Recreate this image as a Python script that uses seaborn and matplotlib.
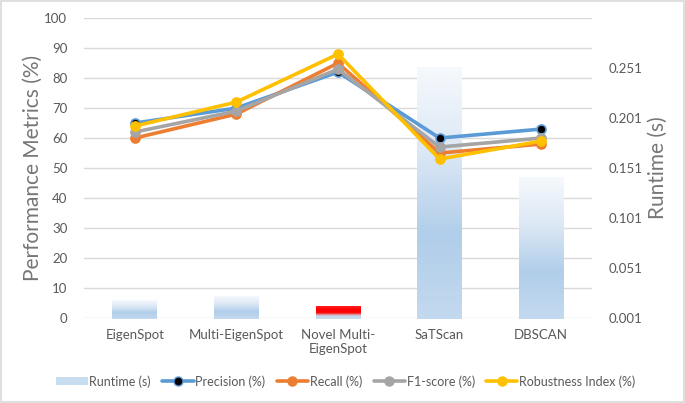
import numpy as np
import pandas as pd
import matplotlib
matplotlib.use("Agg")
import matplotlib.pyplot as plt
from matplotlib.colors import LinearSegmentedColormap
from matplotlib.lines import Line2D
from matplotlib.patches import Patch, Rectangle
import seaborn as sns

categories = ["EigenSpot", "Multi-EigenSpot", "Novel Multi-\nEigenSpot", "SaTScan", "DBSCAN"]
runtime = [0.019, 0.023, 0.013, 0.252, 0.142]
precision = [65, 70, 82, 60, 63]
recall = [60, 68, 85, 55, 58]
f1 = [62, 69, 83, 57, 60]
robustness = [64, 72, 88, 53, 59]
left_ticks = list(range(0, 101, 10))
right_ticks = [0.001, 0.051, 0.101, 0.151, 0.201, 0.251]

sns.set_theme(style="white")
plt.rcParams['font.family'] = ['Lato', 'DejaVu Sans']
txt = "#595959"
lab = "#767676"

fig = plt.figure(figsize=(6.85, 4.03), dpi=100)
ax = fig.add_axes([0.1226, 0.211, 0.7416, 0.744])
ax2 = ax.twinx()
ax3 = ax.twinx()
ax.set_zorder(0); ax2.set_zorder(1); ax3.set_zorder(2)
for a in (ax2, ax3):
    a.patch.set_visible(False)

# grid / left axis
ax.set_ylim(0, 100)
ax.set_yticks(left_ticks)
ax.yaxis.grid(True, color="#D9D9D9", linewidth=1)
ax.tick_params(axis="y", length=0, labelsize=9.5, labelcolor=txt, pad=12)
ax.set_ylabel("Performance Metrics (%)", fontsize=15, color=lab, va="center")
ax.yaxis.set_label_coords(-0.100, 0.5)
for s in ax.spines.values():
    s.set_visible(False)

# bars on right axis
df_bar = pd.DataFrame({"cat": categories, "runtime": runtime})
sns.barplot(data=df_bar, x="cat", y="runtime", ax=ax2, color="#BDD7EE", width=0.44)
ax2.set_ylim(0.001, 0.301)
ax2.set_yticks(right_ticks)
ax2.set_yticklabels([f"{t:.3f}" for t in right_ticks])
ax2.tick_params(axis="y", length=0, labelsize=9.5, labelcolor=txt, pad=12)
ax2.set_ylabel("Runtime (s)", fontsize=15, color=lab, va="center")
ax2.yaxis.set_label_coords(1.130, 0.5)
ax2.set_xlabel("")
for s in ax2.spines.values():
    s.set_visible(False)

blue_cmap = LinearSegmentedColormap.from_list("g", ["#C3D9EF", "#B1CEEA", "#DCE8F5", "#F6F9FD"])
red_cmap = LinearSegmentedColormap.from_list("r", ["#C6DBF0", "#C8D6E8", "#FF0000", "#FF0000", "#FF2020"])
grad = np.linspace(0, 1, 256).reshape(-1, 1)
for i, p in enumerate(ax2.patches):
    x0, y0 = p.get_x(), p.get_y()
    w, h = p.get_width(), p.get_height()
    cmap = red_cmap if i == 2 else blue_cmap
    im = ax2.imshow(grad, cmap=cmap, origin="lower", aspect="auto",
                    extent=[x0, x0 + w, y0, y0 + h], zorder=1)
    im.set_clip_path(p)
    p.set_facecolor("none")
    p.set_edgecolor("none")
ax2.set_xlim(-0.5, len(categories) - 0.5)
ax2.set_ylim(0.001, 0.301)

# lines
series = [("Precision (%)", precision, "#5B9BD5", "black"),
          ("Recall (%)", recall, "#ED7D31", "#ED7D31"),
          ("F1-score (%)", f1, "#A5A5A5", "#A5A5A5"),
          ("Robustness Index (%)", robustness, "#FFC000", "#FFC000")]
for name, vals, col, mfc in series:
    d = pd.DataFrame({"cat": categories, "v": vals})
    sns.lineplot(data=d, x="cat", y="v", ax=ax3, color=col, linewidth=2.6,
                 marker="o", markersize=6.5, markerfacecolor=mfc,
                 markeredgecolor=col, markeredgewidth=1.2, sort=False)
ax3.set_ylim(0, 100)
ax3.set_yticks([])
ax3.set_ylabel("")
ax3.set_xlabel("")
for s in ax3.spines.values():
    s.set_visible(False)
ax3.set_xlim(-0.5, len(categories) - 0.5)
ax.set_xlim(-0.5, len(categories) - 0.5)

ax.tick_params(axis="x", length=0, labelsize=9.5, labelcolor=txt, pad=8)
ax.set_xticks(range(len(categories)))
ax.set_xticklabels(categories)
ax2.tick_params(axis="x", labelbottom=False, length=0)
ax3.tick_params(axis="x", labelbottom=False, length=0)

handles = [Patch(facecolor="#C9DDF0", edgecolor="none")]
labels = ["Runtime (s)"]
for name, vals, col, mfc in series:
    handles.append(Line2D([0], [0], color=col, linewidth=2.6, marker="o", markersize=6.5,
                          markerfacecolor=mfc, markeredgecolor=col))
    labels.append(name)
fig.legend(handles, labels, loc="center", bbox_to_anchor=(0.505, 0.054), ncol=5,
           frameon=False, fontsize=9, labelcolor=txt, handlelength=2.5,
           handletextpad=0.15, columnspacing=0.9, handleheight=0.6)

fig.patches.append(Rectangle((0.002, 0.003), 0.996, 0.994, transform=fig.transFigure,
                             fill=False, edgecolor="#D9D9D9", linewidth=1.2))
fig.savefig("out.png", dpi=100)
